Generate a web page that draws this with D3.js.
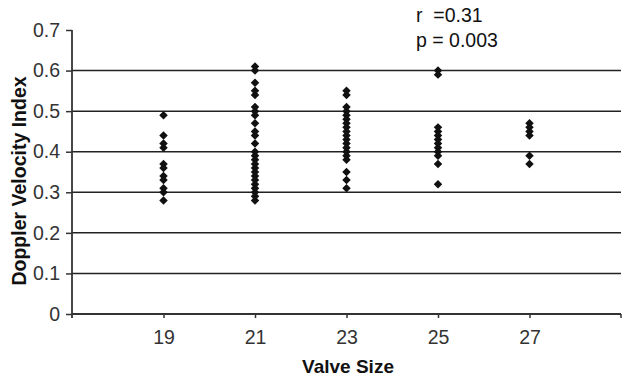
<!DOCTYPE html>
<html>
<head>
<meta charset="utf-8">
<script src="https://cdn.jsdelivr.net/npm/d3@7"></script>
<style>
  body { margin: 0; background: #fff; }
  svg text { font-family: "Liberation Sans", Arial, sans-serif; }
</style>
</head>
<body>
<div id="chart"></div>
<script>
// valve sizes and Doppler velocity index readings per size
const valveSizes = [19, 21, 23, 25, 27];
const dvi19 = [0.49, 0.44, 0.42, 0.41, 0.37, 0.36, 0.34, 0.33, 0.31, 0.30, 0.28];
const dvi21 = [0.61, 0.60, 0.57, 0.55, 0.54, 0.51, 0.50, 0.49, 0.47, 0.45, 0.44, 0.42,
               0.40, 0.39, 0.38, 0.37, 0.36, 0.35, 0.34, 0.33, 0.32, 0.31, 0.30, 0.29, 0.28];
const dvi23 = [0.55, 0.54, 0.51, 0.50, 0.49, 0.48, 0.47, 0.46, 0.45, 0.44, 0.43, 0.42,
               0.41, 0.40, 0.39, 0.38, 0.35, 0.33, 0.31];
const dvi25 = [0.60, 0.59, 0.46, 0.45, 0.44, 0.43, 0.42, 0.41, 0.40, 0.39, 0.37, 0.32];
const dvi27 = [0.47, 0.46, 0.45, 0.44, 0.39, 0.37];
const yTicks = [0, 0.1, 0.2, 0.3, 0.4, 0.5, 0.6, 0.7];
const gridValues = [0.1, 0.2, 0.3, 0.4, 0.5, 0.6];
const statsText = ["r  =0.31", "p = 0.003"];

const groups = [dvi19, dvi21, dvi23, dvi25, dvi27];
const points = [];
groups.forEach((vals, i) => {
    vals.forEach(v => points.push({ size: valveSizes[i], dvi: v }));
});

const width = 631, height = 378;

const svg = d3.select("#chart").append("svg")
    .attr("width", width)
    .attr("height", height);

const x = d3.scaleLinear().domain([17, 29]).range([72, 621]);
const y = d3.scaleLinear().domain([0, 0.7]).range([314, 30]);

// horizontal gridlines
svg.append("g")
    .selectAll("line")
    .data(gridValues)
    .enter().append("line")
    .attr("x1", x(17))
    .attr("x2", x(29))
    .attr("y1", d => y(d))
    .attr("y2", d => y(d))
    .attr("stroke", "#222")
    .attr("stroke-width", 1.5);

// y axis
const yAxis = svg.append("g")
    .attr("transform", `translate(${x(17)},0)`)
    .call(d3.axisLeft(y).tickValues(yTicks).tickSize(6).tickPadding(6)
        .tickFormat(d => d === 0 ? "0" : d3.format(".1f")(d)));
yAxis.select(".domain").remove();
yAxis.append("line")
    .attr("y1", y(0.7))
    .attr("y2", y(0) + 4)
    .attr("stroke", "#333")
    .attr("stroke-width", 1.8);
yAxis.selectAll(".tick line").attr("stroke", "#333").attr("stroke-width", 1.5);
yAxis.selectAll(".tick text")
    .attr("fill", "#333")
    .style("font-size", "19.5px");

// x axis
const xAxis = svg.append("g")
    .attr("transform", `translate(0,${y(0)})`)
    .call(d3.axisBottom(x).tickValues(valveSizes).tickSize(4).tickPadding(12)
        .tickFormat(d3.format("d")));
xAxis.select(".domain").remove();
xAxis.append("line")
    .attr("x1", x(17))
    .attr("x2", x(29))
    .attr("stroke", "#333")
    .attr("stroke-width", 1.8);
xAxis.append("line")
    .attr("x1", x(29))
    .attr("x2", x(29))
    .attr("y1", 0)
    .attr("y2", 4)
    .attr("stroke", "#333")
    .attr("stroke-width", 1.5);
xAxis.selectAll(".tick line").attr("stroke", "#333").attr("stroke-width", 1.5);
xAxis.selectAll(".tick text")
    .attr("fill", "#333")
    .style("font-size", "19.5px");

// data points as diamonds (rotated squares)
const diamond = d3.symbol().type(d3.symbolSquare).size(36);
svg.append("g")
    .selectAll("path")
    .data(points)
    .enter().append("path")
    .attr("d", diamond)
    .attr("transform", d => `translate(${x(d.size)},${y(d.dvi)}) rotate(45)`)
    .attr("fill", "#111");

// axis titles
svg.append("text")
    .attr("transform", `translate(26,181) rotate(-90)`)
    .attr("text-anchor", "middle")
    .attr("font-weight", "bold")
    .style("font-size", "19.5px")
    .attr("fill", "#111")
    .text("Doppler Velocity Index");

svg.append("text")
    .attr("x", 348)
    .attr("y", 373)
    .attr("text-anchor", "middle")
    .attr("font-weight", "bold")
    .style("font-size", "19px")
    .attr("fill", "#111")
    .text("Valve Size");

// correlation annotation
svg.append("g")
    .selectAll("text")
    .data(statsText)
    .enter().append("text")
    .attr("x", 416)
    .attr("y", (d, i) => 22 + i * 25)
    .style("font-size", "19.5px")
    .style("white-space", "pre")
    .attr("fill", "#111")
    .text(d => d);
</script>
</body>
</html>
